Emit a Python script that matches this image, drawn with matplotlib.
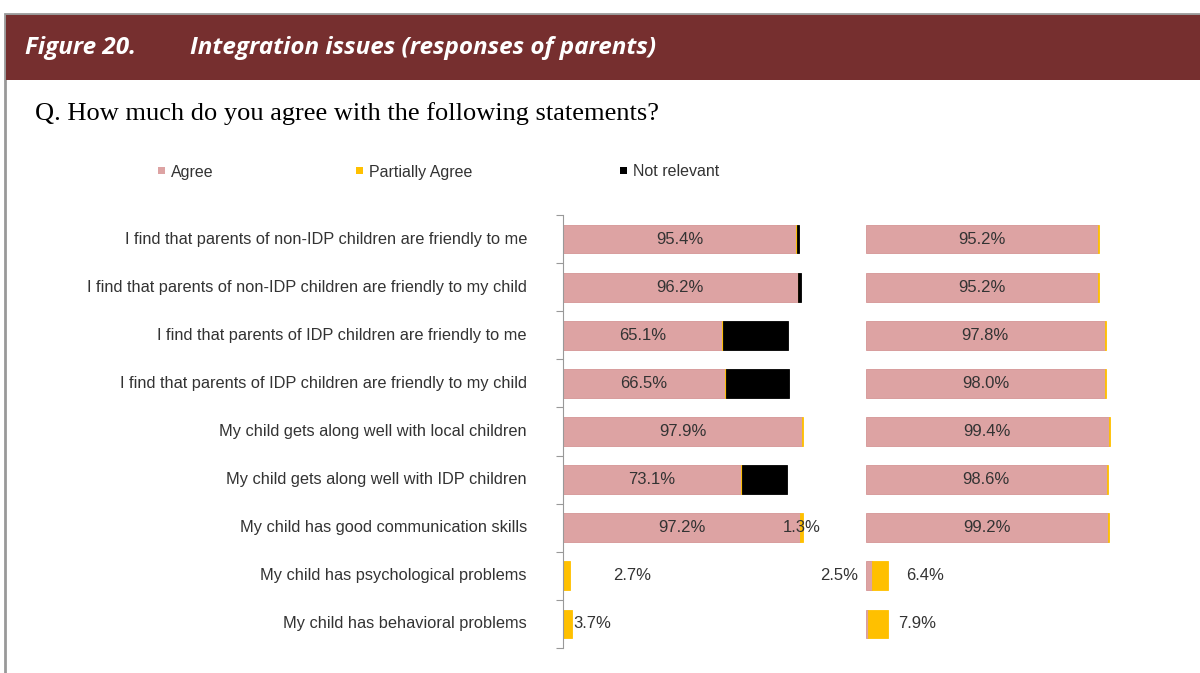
import numpy as np
import matplotlib.pyplot as plt
from matplotlib.patches import Rectangle

# Data
categories = ["I find that parents of non-IDP children are friendly to me",
              "I find that parents of non-IDP children are friendly to my child",
              "I find that parents of IDP children are friendly to me",
              "I find that parents of IDP children are friendly to my child",
              "My child gets along well with local children",
              "My child gets along well with IDP children",
              "My child has good communication skills",
              "My child has psychological problems",
              "My child has behavioral problems"]
series = ["Agree", "Partially Agree", "Not relevant"]

left_agree = [95.4, 96.2, 65.1, 66.5, 97.9, 73.1, 97.2, 0.0, 0.0]
left_partial = [0.3, 0.3, 0.4, 0.4, 0.5, 0.4, 1.3, 2.7, 3.7]
left_notrel = [1.2, 1.0, 26.6, 25.8, 0.0, 18.4, 0.0, 0.0, 0.0]

right_agree = [95.2, 95.2, 97.8, 98.0, 99.4, 98.6, 99.2, 2.5, 1.0]
right_partial = [0.4, 0.4, 0.5, 0.5, 0.4, 0.5, 0.4, 6.4, 7.9]
right_notrel = [0.0, 0.0, 0.0, 0.0, 0.0, 0.0, 0.0, 0.0, 0.0]

colors = ["#DDA3A3", "#FFC000", "#000000"]
edges = ["#D49595", "#FFC000", "#000000"]
txtc = "#333333"
sans = ["Liberation Sans", "DejaVu Sans"]

# hand placed labels (panel, row, series) -> (offset px, ha), offset from bar end
special = {(0, 7, 1): (44, "left"), (0, 8, 1): (1, "left"),
           (1, 7, 0): (-8, "right_start"), (1, 7, 1): (18, "left"),
           (1, 8, 1): (10, "left")}

fig = plt.figure(figsize=(12, 6.73), dpi=100)
W, H = 1200, 673

# frame + header band
fig.add_artist(Rectangle((5 / W, -0.1), 1.2, 1.1 - 14 / H, transform=fig.transFigure,
                         facecolor="none", edgecolor="#999999", lw=2))
fig.add_artist(Rectangle((6 / W, 1 - 80 / H), 1.2, 65 / H, transform=fig.transFigure,
                         facecolor="#762F2F", edgecolor="none"))
fig.text(25 / W, 1 - 48 / H, "Figure 20.", color="white", fontsize=17.5,
         family="Open Sans", weight="bold", style="italic", va="center")
fig.text(190 / W, 1 - 48 / H, "Integration issues (responses of parents)", color="white",
         fontsize=17.5, family="Open Sans", weight="bold", style="italic", va="center")
fig.text(35 / W, 1 - 114 / H, "Q. How much do you agree with the following statements?",
         color="black", fontsize=19, family="Liberation Serif", va="center")

# legend
for x, lab, c in zip([158, 356, 620], series, colors):
    fig.add_artist(Rectangle((x / W, 1 - 174 / H), 7 / W, 7 / H, transform=fig.transFigure,
                             facecolor=c, edgecolor="none"))
    fig.text((x + 13) / W, 1 - 172 / H, lab, color=txtc, fontsize=11.5, family=sans, va="center")

y = np.arange(len(categories))
panels = [(563, [left_agree, left_partial, left_notrel]),
          (866, [right_agree, right_partial, right_notrel])]

for p, (x0, data) in enumerate(panels):
    ax = fig.add_axes([x0 / W, 1 - 648 / H, 244 / W, 433 / H])
    ax.set_xlim(0, 100)
    ax.set_ylim(len(categories) - 0.5, -0.5)
    left = np.zeros(len(categories))
    for s, vals in enumerate(data):
        vals = np.array(vals)
        m = vals > 0
        ax.barh(y[m], vals[m], left=left[m], height=0.6, color=colors[s], edgecolor=edges[s],
                linewidth=0.6, clip_on=False)
        for i, v in enumerate(vals):
            if s == 2 or v < 1.2:
                continue
            key = (p, i, s)
            if key in special:
                off, ha = special[key]
                if ha == "right_start":
                    ax.annotate(f"{v:.1f}%", (left[i], i), xytext=(off * 0.72, 0),
                                textcoords="offset points", ha="right", va="center",
                                color=txtc, fontsize=12, family=sans)
                else:
                    ax.annotate(f"{v:.1f}%", (left[i] + v, i), xytext=(off * 0.72, 0),
                                textcoords="offset points", ha="left", va="center",
                                color=txtc, fontsize=12, family=sans)
            else:
                ax.text(left[i] + v / 2, i, f"{v:.1f}%", ha="center", va="center",
                        color=txtc, fontsize=12, family=sans)
        left = left + vals
    ax.set_xticks([])
    for sp in ["top", "right", "bottom"]:
        ax.spines[sp].set_visible(False)
    if p == 0:
        ax.spines["left"].set_color("#999999")
        ax.set_yticks(np.arange(len(categories) + 1) - 0.5, minor=False)
        ax.set_yticklabels([])
        ax.tick_params(axis="y", length=5, color="#999999")
        for i, c in enumerate(categories):
            ax.annotate(c, (0, i), xytext=(-26, 0), textcoords="offset points",
                        ha="right", va="center", color=txtc, fontsize=11.8, family=sans,
                        annotation_clip=False)
    else:
        ax.spines["left"].set_visible(False)
        ax.set_yticks([])

plt.savefig("out.png", dpi=100)
